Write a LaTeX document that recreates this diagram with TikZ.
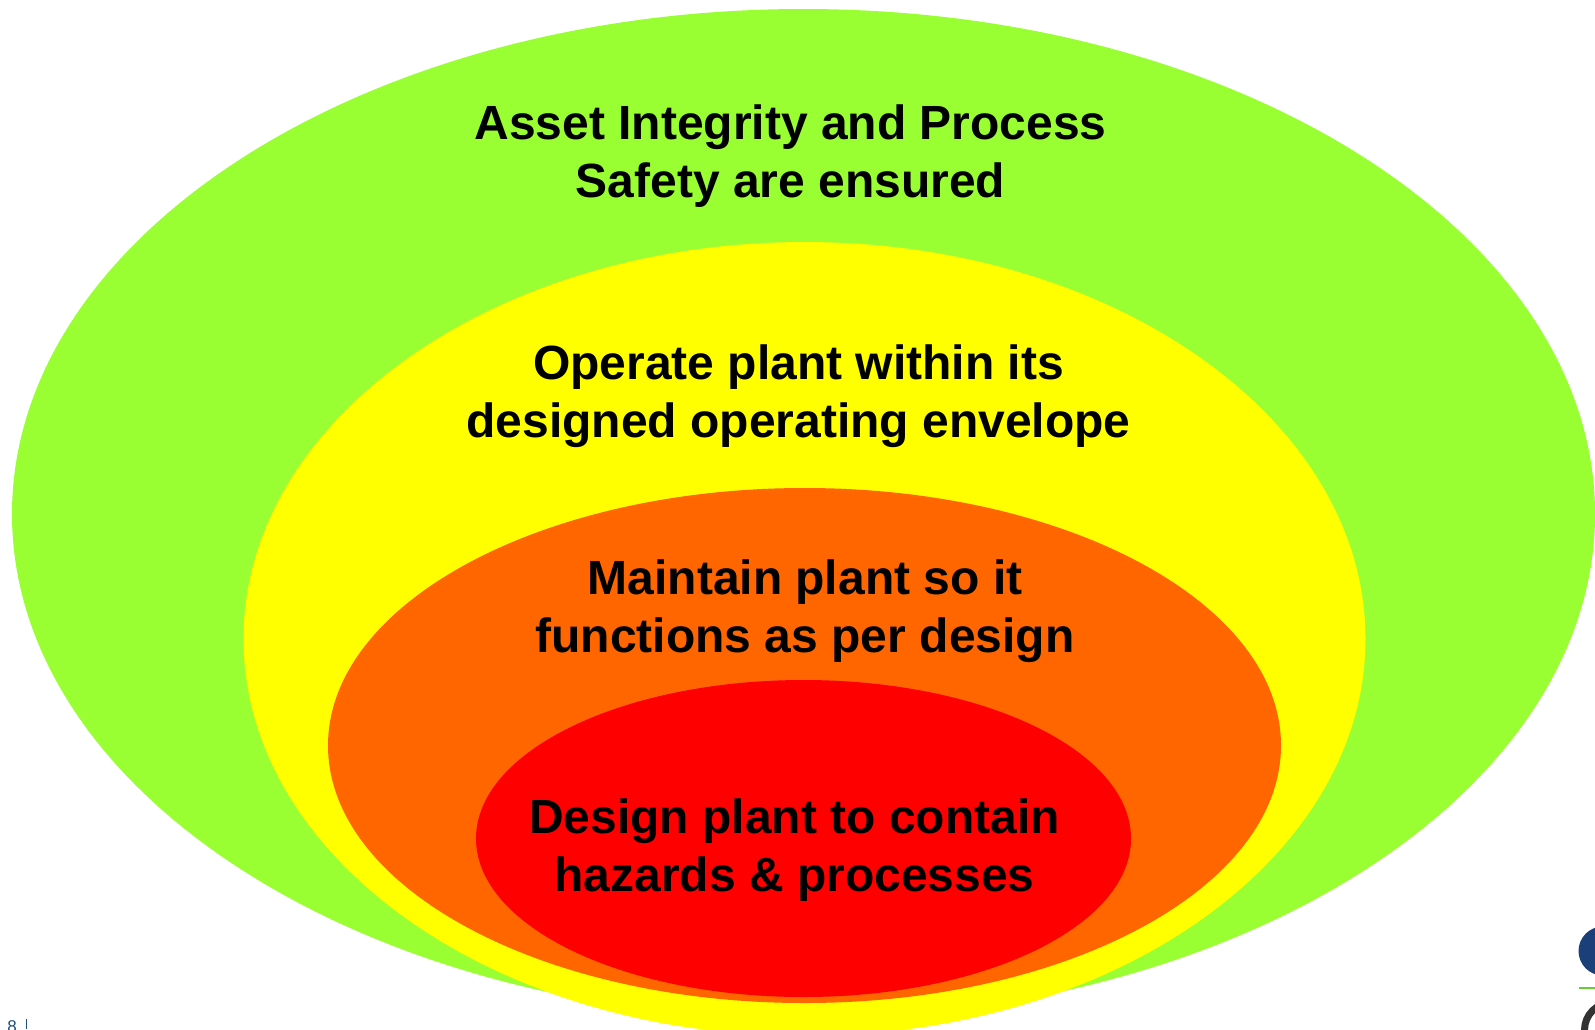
\documentclass[tikz,border=0pt]{standalone}
\usepackage{fontspec}
\setmainfont{Liberation Sans}
\definecolor{gr}{HTML}{99FF33}
\definecolor{ye}{HTML}{FFFF00}
\definecolor{orn}{HTML}{FF6600}
\definecolor{rd}{HTML}{FF0000}
\definecolor{nav}{HTML}{1B3F78}
\definecolor{pagecol}{HTML}{1F4E79}
\tikzset{
  lbl/.style={align=center,font=\fontsize{48}{58}\selectfont\bfseries,text=black,inner sep=0pt},
}
\begin{document}
\begin{tikzpicture}[x=1pt,y=-1pt]
\useasboundingbox (0,0) rectangle (1595,1029);
\begin{scope}
\clip (0,0) rectangle (1595,1029);
\fill[white] (0,0) rectangle (1595,1029);
\fill[gr] (803.5,514) ellipse [x radius=791.5,y radius=505];
\fill[ye] (804.5,639) ellipse [x radius=561,y radius=397];
\fill[orn] (804.5,745.5) ellipse [x radius=476.5,y radius=257.5];
\fill[rd] (803.5,838.5) ellipse [x radius=327.5,y radius=158.5];
\fill[nav] (1603,951) circle (24.5);
\draw[line width=1.5pt,green!50!olive!80] (1579,988) -- (1595,988);
\draw[line width=7pt,black!80] (1612,1030) circle (27.5);
\node[anchor=base,inner sep=0pt,text=pagecol,font=\fontsize{17}{17}\selectfont\rmfamily] (pg) at (12,1032) {8};
\draw[pagecol,line width=0.7pt] (26,1019) -- (26,1029);
\end{scope}
\node[lbl] (a) at (790.5,156) {Asset Integrity and Process\\Safety are ensured};
\node[lbl] (b) at (798.5,396) {Operate plant within its\\designed operating envelope};
\node[lbl] (c) at (805,611) {Maintain plant so it\\functions as per design};
\node[lbl] (d) at (794.5,850) {Design plant to contain\\hazards \& processes};
\end{tikzpicture}
\end{document}
